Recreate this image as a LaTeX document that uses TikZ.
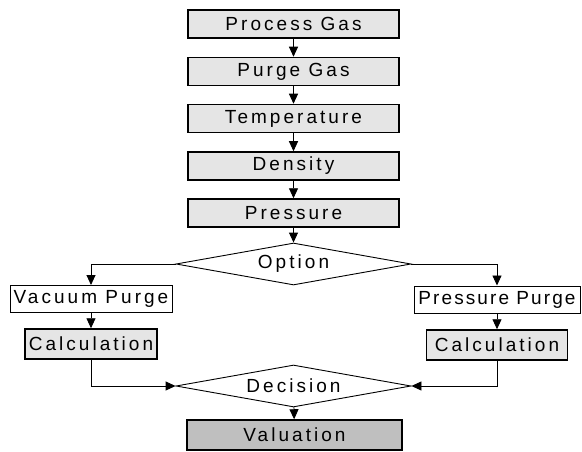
\documentclass[tikz,border=0pt]{standalone}
\usepackage{fontspec}
\setmainfont{Liberation Sans}
\newfontfamily\boxfont{Liberation Sans}[LetterSpace=16]
\newfontfamily\tightfont{Liberation Sans}[LetterSpace=11]
\usepackage{tikz}
\usetikzlibrary{arrows.meta,positioning,shapes.geometric,calc}
\usepackage{xcolor}

\begin{document}
\begin{tikzpicture}[x=1pt, y=-1pt, >={Triangle[length=10pt,width=9pt]},
  stepbox/.style={draw, line width=1.5pt, fill=gray!20, minimum width=211pt, minimum height=28pt,
    inner sep=1pt, font=\boxfont\fontsize{19}{21}\selectfont},
  sidebox/.style={draw, line width=1pt, fill=white, minimum height=27pt,
    inner sep=1pt, font=\boxfont\fontsize{19}{21}\selectfont},
  calcbox/.style={stepbox, minimum width=132pt, minimum height=30pt},
  choice/.style={draw, diamond, line width=0.9pt, aspect=5.5, inner sep=1pt,
    minimum width=235pt, minimum height=42pt, font=\boxfont\fontsize{19}{21}\selectfont},
  flow/.style={->, line width=0.9pt}]

\useasboundingbox (0,0) rectangle (582,452);

% Input column
\node[stepbox] (gas)  at (293.5,24)  {Process Gas};
\node[stepbox] (purg) at (293.5,71.5) {Purge Gas};
\node[stepbox] (temp) at (293.5,118.5) {Temperature};
\node[stepbox] (dens) at (293.5,166) {Density};
\node[stepbox] (pres) at (293.5,213) {Pressure};

% Option diamond
\node[choice] (opt) at (293.5,264) {Option};

% Left branch
\node[sidebox, minimum width=162pt] (vac) at (91,299) {Vacuum Purge};
\node[calcbox] (calcl) at (91,344) {Calculation};

% Right branch
\node[sidebox, minimum width=166pt, font=\tightfont\fontsize{19}{21}\selectfont] (ppg) at (497,299.5) {Pressure Purge};
\node[calcbox, minimum width=141pt] (calcr) at (497,345) {Calculation};

% Decision and result
\node[choice] (dec) at (293.5,386) {Decision};
\node[stepbox, fill=gray!50, minimum width=215pt, minimum height=30pt] (val) at (294.5,435) {Valuation};

% Connectors
\draw[flow] (gas) -- (purg);
\draw[flow] (purg) -- (temp);
\draw[flow] (temp) -- (dens);
\draw[flow] (dens) -- (pres);
\draw[flow] (pres) -- (opt);
\draw[flow] (opt.west) -| (vac.north);
\draw[flow] (opt.east) -| (ppg.north);
\draw[flow] (vac) -- (calcl);
\draw[flow] (ppg) -- (calcr);
\draw[flow] (calcl.south) |- (dec.west);
\draw[flow] (calcr.south) |- (dec.east);
\draw[flow] (dec) -- (val);

\end{tikzpicture}
\end{document}
